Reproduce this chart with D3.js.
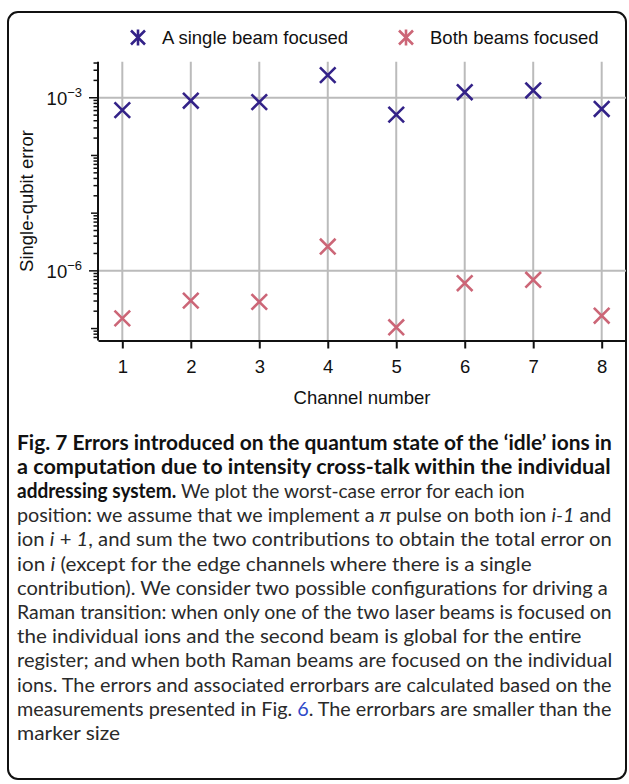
<!DOCTYPE html>
<html>
<head>
<meta charset="utf-8">
<script src="https://cdn.jsdelivr.net/npm/d3@7"></script>
<style>
  body { margin: 0; background: #fff; }
  svg { display: block; }
</style>
</head>
<body>
<svg id="chart" width="629" height="784"></svg>
<script>
// channel numbers and the two error series
const channels = [1, 2, 3, 4, 5, 6, 7, 8];
const singleBeam = [6.1e-4, 8.9e-4, 8.4e-4, 2.47e-3, 5.1e-4, 1.25e-3, 1.34e-3, 6.4e-4];
const bothBeams = [1.5e-7, 3.05e-7, 2.9e-7, 2.64e-6, 1.05e-7, 6.1e-7, 7.0e-7, 1.67e-7];

const seriesNames = ['A single beam focused', 'Both beams focused'];
const seriesColors = ['#332288', '#CC6677'];

const yMajorTicks = [1e-6, 1e-3];
const yMajorLabels = ['\u22126', '\u22123'];

// caption lines: [text, style] pieces, b = bold, i = italic, r = regular, l = link
const captionLines = [
  [['Fig. 7 Errors introduced on the quantum state of the \u2018idle\u2019 ions in', 'b']],
  [['a computation due to intensity cross-talk within the individual', 'b']],
  [['addressing system.', 'b'], [' We plot the worst-case error for each ion', 'r']],
  [['position: we assume that we implement a ', 'r'], ['\u03c0', 'i'], [' pulse on both ion ', 'r'], ['i-1', 'i'], [' and', 'r']],
  [['ion ', 'r'], ['i', 'i'], [' + ', 'r'], ['1', 'i'], [', and sum the two contributions to obtain the total error on', 'r']],
  [['ion ', 'r'], ['i', 'i'], [' (except for the edge channels where there is a single', 'r']],
  [['contribution). We consider two possible configurations for driving a', 'r']],
  [['Raman transition: when only one of the two laser beams is focused on', 'r']],
  [['the individual ions and the second beam is global for the entire', 'r']],
  [['register; and when both Raman beams are focused on the individual', 'r']],
  [['ions. The errors and associated errorbars are calculated based on the', 'r']],
  [['measurements presented in Fig. ', 'r'], ['6', 'l'], ['. The errorbars are smaller than the', 'r']],
  [['marker size', 'r']]
];
const captionRight = [612, 611, 525, 612, 612, 532, 608, 612, 582, 612, 612, 612, 120];

const svg = d3.select('#chart');
const font = '"Liberation Sans", Arial, Helvetica, sans-serif';

/** outer rounded frame */
svg.append('rect')
  .attr('x', 8).attr('y', 12)
  .attr('width', 618).attr('height', 767)
  .attr('rx', 10)
  .attr('fill', 'none')
  .attr('stroke', '#111')
  .attr('stroke-width', 2);

/** scales */
const x = d3.scaleLinear().domain([0.645, 8.355]).range([98, 626]);
const y = d3.scaleLog().domain([Math.pow(10, -7.207), Math.pow(10, -2.375)]).range([340.5, 61.7]);

const plot = svg.append('g');

/** grid */
plot.append('g')
  .selectAll('line')
  .data(channels)
  .join('line')
  .attr('x1', d => x(d)).attr('x2', d => x(d))
  .attr('y1', y.range()[1]).attr('y2', y.range()[0])
  .attr('stroke', '#bbbbbb')
  .attr('stroke-width', 2);

plot.append('g')
  .selectAll('line')
  .data(yMajorTicks)
  .join('line')
  .attr('x1', x.range()[0]).attr('x2', x.range()[1])
  .attr('y1', d => y(d)).attr('y2', d => y(d))
  .attr('stroke', '#bbbbbb')
  .attr('stroke-width', 2);

/** x axis */
const xAxis = plot.append('g')
  .attr('transform', `translate(0,${y.range()[0]})`)
  .call(d3.axisBottom(x).tickValues(channels).tickSize(8).tickPadding(11).tickSizeOuter(0));
xAxis.select('.domain').attr('stroke', '#111').attr('stroke-width', 2);
xAxis.selectAll('.tick line').attr('stroke', '#111').attr('stroke-width', 2);
xAxis.selectAll('.tick text')
  .attr('font-family', font).attr('font-size', 18.5).attr('fill', '#111');

/** y axis, log ticks at every k*10^n */
const minorTicks = [];
for (let n = -8; n <= -2; n++) {
  for (let k = 1; k <= 9; k++) {
    const v = k * Math.pow(10, n);
    if (v >= y.domain()[0] && v <= y.domain()[1]) minorTicks.push(v);
  }
}
const yAxisG = plot.append('g').attr('transform', `translate(${x.range()[0]},0)`);
yAxisG.append('line')
  .attr('x1', 0).attr('x2', 0)
  .attr('y1', y.range()[1]).attr('y2', y.range()[0])
  .attr('stroke', '#111').attr('stroke-width', 2);
yAxisG.selectAll('line.tick')
  .data(minorTicks)
  .join('line')
  .attr('class', 'tick')
  .attr('x1', d => {
    const lg = Math.log10(d);
    if (yMajorTicks.some(m => Math.abs(Math.log10(m) - lg) < 1e-6)) return -9;
    if (Math.abs(lg - Math.round(lg)) < 1e-6) return -7;
    return -4.5;
  })
  .attr('x2', 0)
  .attr('y1', d => y(d)).attr('y2', d => y(d))
  .attr('stroke', '#111').attr('stroke-width', 1.5);

const yLab = yAxisG.selectAll('text.ylab')
  .data(yMajorTicks)
  .join('text')
  .attr('class', 'ylab')
  .attr('x', -16)
  .attr('y', d => y(d) + 7.5)
  .attr('text-anchor', 'end')
  .attr('font-family', font).attr('font-size', 18.5).attr('fill', '#111');
yLab.append('tspan').text('10');
yLab.append('tspan')
  .attr('dy', -8)
  .attr('font-size', 13)
  .text((d, i) => yMajorLabels[i]);

/** axis titles */
svg.append('text')
  .attr('x', 362).attr('y', 404)
  .attr('text-anchor', 'middle')
  .attr('font-family', font).attr('font-size', 18.5).attr('fill', '#111')
  .text('Channel number');

svg.append('text')
  .attr('transform', 'translate(33,201) rotate(-90)')
  .attr('text-anchor', 'middle')
  .attr('font-family', font).attr('font-size', 18.5).attr('fill', '#111')
  .text('Single-qubit error');

/** cross markers */
const cross = (sel, r) => sel.attr('d', `M${-r},${-r}L${r},${r}M${-r},${r}L${r},${-r}`);

[singleBeam, bothBeams].forEach((vals, si) => {
  plot.append('g')
    .selectAll('path')
    .data(vals)
    .join('path')
    .attr('transform', (d, i) => `translate(${x(channels[i])},${y(d)})`)
    .call(cross, 7.8)
    .attr('fill', 'none')
    .attr('stroke', seriesColors[si])
    .attr('stroke-width', 2.6);
});

/** legend */
const legendX = [138, 406];
const legend = svg.append('g')
  .selectAll('g')
  .data(seriesNames)
  .join('g')
  .attr('transform', (d, i) => `translate(${legendX[i]},37.5)`);
legend.append('path')
  .call(cross, 7)
  .attr('fill', 'none')
  .attr('stroke', (d, i) => seriesColors[i])
  .attr('stroke-width', 2.6);
legend.append('line')
  .attr('x1', 0).attr('x2', 0).attr('y1', -8).attr('y2', 8)
  .attr('stroke', (d, i) => seriesColors[i])
  .attr('stroke-width', 2.6);
legend.append('text')
  .attr('x', 24).attr('y', 6.6)
  .attr('font-family', font).attr('font-size', 18.5).attr('fill', '#111')
  .text(d => d);

/** caption, one text element per printed line */
const capFont = 'Lato, "Open Sans", sans-serif';
const cap = svg.append('g');
captionLines.forEach((pieces, li) => {
  const t = cap.append('text')
    .attr('x', 0).attr('y', 0)
    .attr('font-family', capFont)
    .attr('font-size', 20)
    .attr('fill', '#2a2a2a');
  pieces.forEach(([s, st]) => {
    const ts = t.append('tspan').text(s);
    if (st === 'b') ts.attr('font-weight', 700).attr('fill', '#111');
    if (st === 'r') ts.attr('font-weight', 400);
    if (st === 'i') ts.attr('font-style', 'italic').attr('font-weight', 400);
    if (st === 'l') ts.attr('font-weight', 400).attr('fill', '#2e49c8');
  });
  const w = t.node().getComputedTextLength();
  const sx = (captionRight[li] - 17) / w;
  t.attr('transform', `translate(17,${449.5 + li * 24.2}) scale(${sx},1)`);
});
</script>
</body>
</html>
